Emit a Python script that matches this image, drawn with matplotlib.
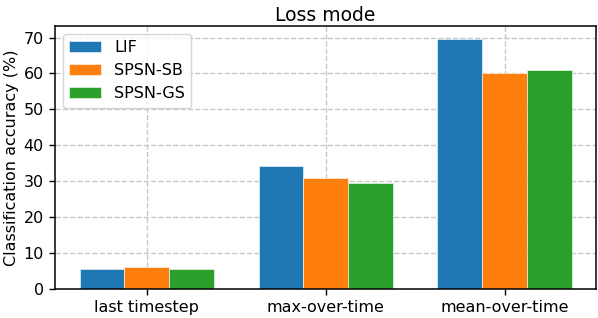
import numpy as np
import matplotlib.pyplot as plt

# data
modes = ["last timestep", "max-over-time", "mean-over-time"]
lif = [5.5, 34.3, 69.7]
spsn_sb = [6.1, 31.0, 60.1]
spsn_gs = [5.7, 29.4, 61.0]

series = [("LIF", lif, "#1f77b4"),
          ("SPSN-SB", spsn_sb, "#ff7f0e"),
          ("SPSN-GS", spsn_gs, "#2ca02c")]

fig = plt.figure(figsize=(5.98, 3.18), dpi=100)
ax = fig.add_axes([0.092, 0.091, 0.905, 0.827])

x = np.arange(len(modes))
width = 0.25

for i, (name, vals, color) in enumerate(series):
    ax.bar(x + (i - 1) * width, vals, width, label=name,
           color=color, edgecolor="white", linewidth=0.4)

ax.set_axisbelow(True)
ax.grid(True, linestyle="--", color="#c8c8c8", linewidth=1.0)

ax.set_xticks(x)
ax.set_xticklabels(modes, fontsize=11.5)
ax.tick_params(axis="y", labelsize=11.5)
ax.tick_params(axis="both", length=4.5, width=1.0)
for spine in ax.spines.values():
    spine.set_linewidth(1.1)
ax.set_ylabel("Classification accuracy (%)", fontsize=11.5, labelpad=3)
ax.set_title("Loss mode", fontsize=13.5, pad=4)
ax.legend(loc="upper left", fontsize=11.5)

fig.savefig("out.png", dpi=100)
